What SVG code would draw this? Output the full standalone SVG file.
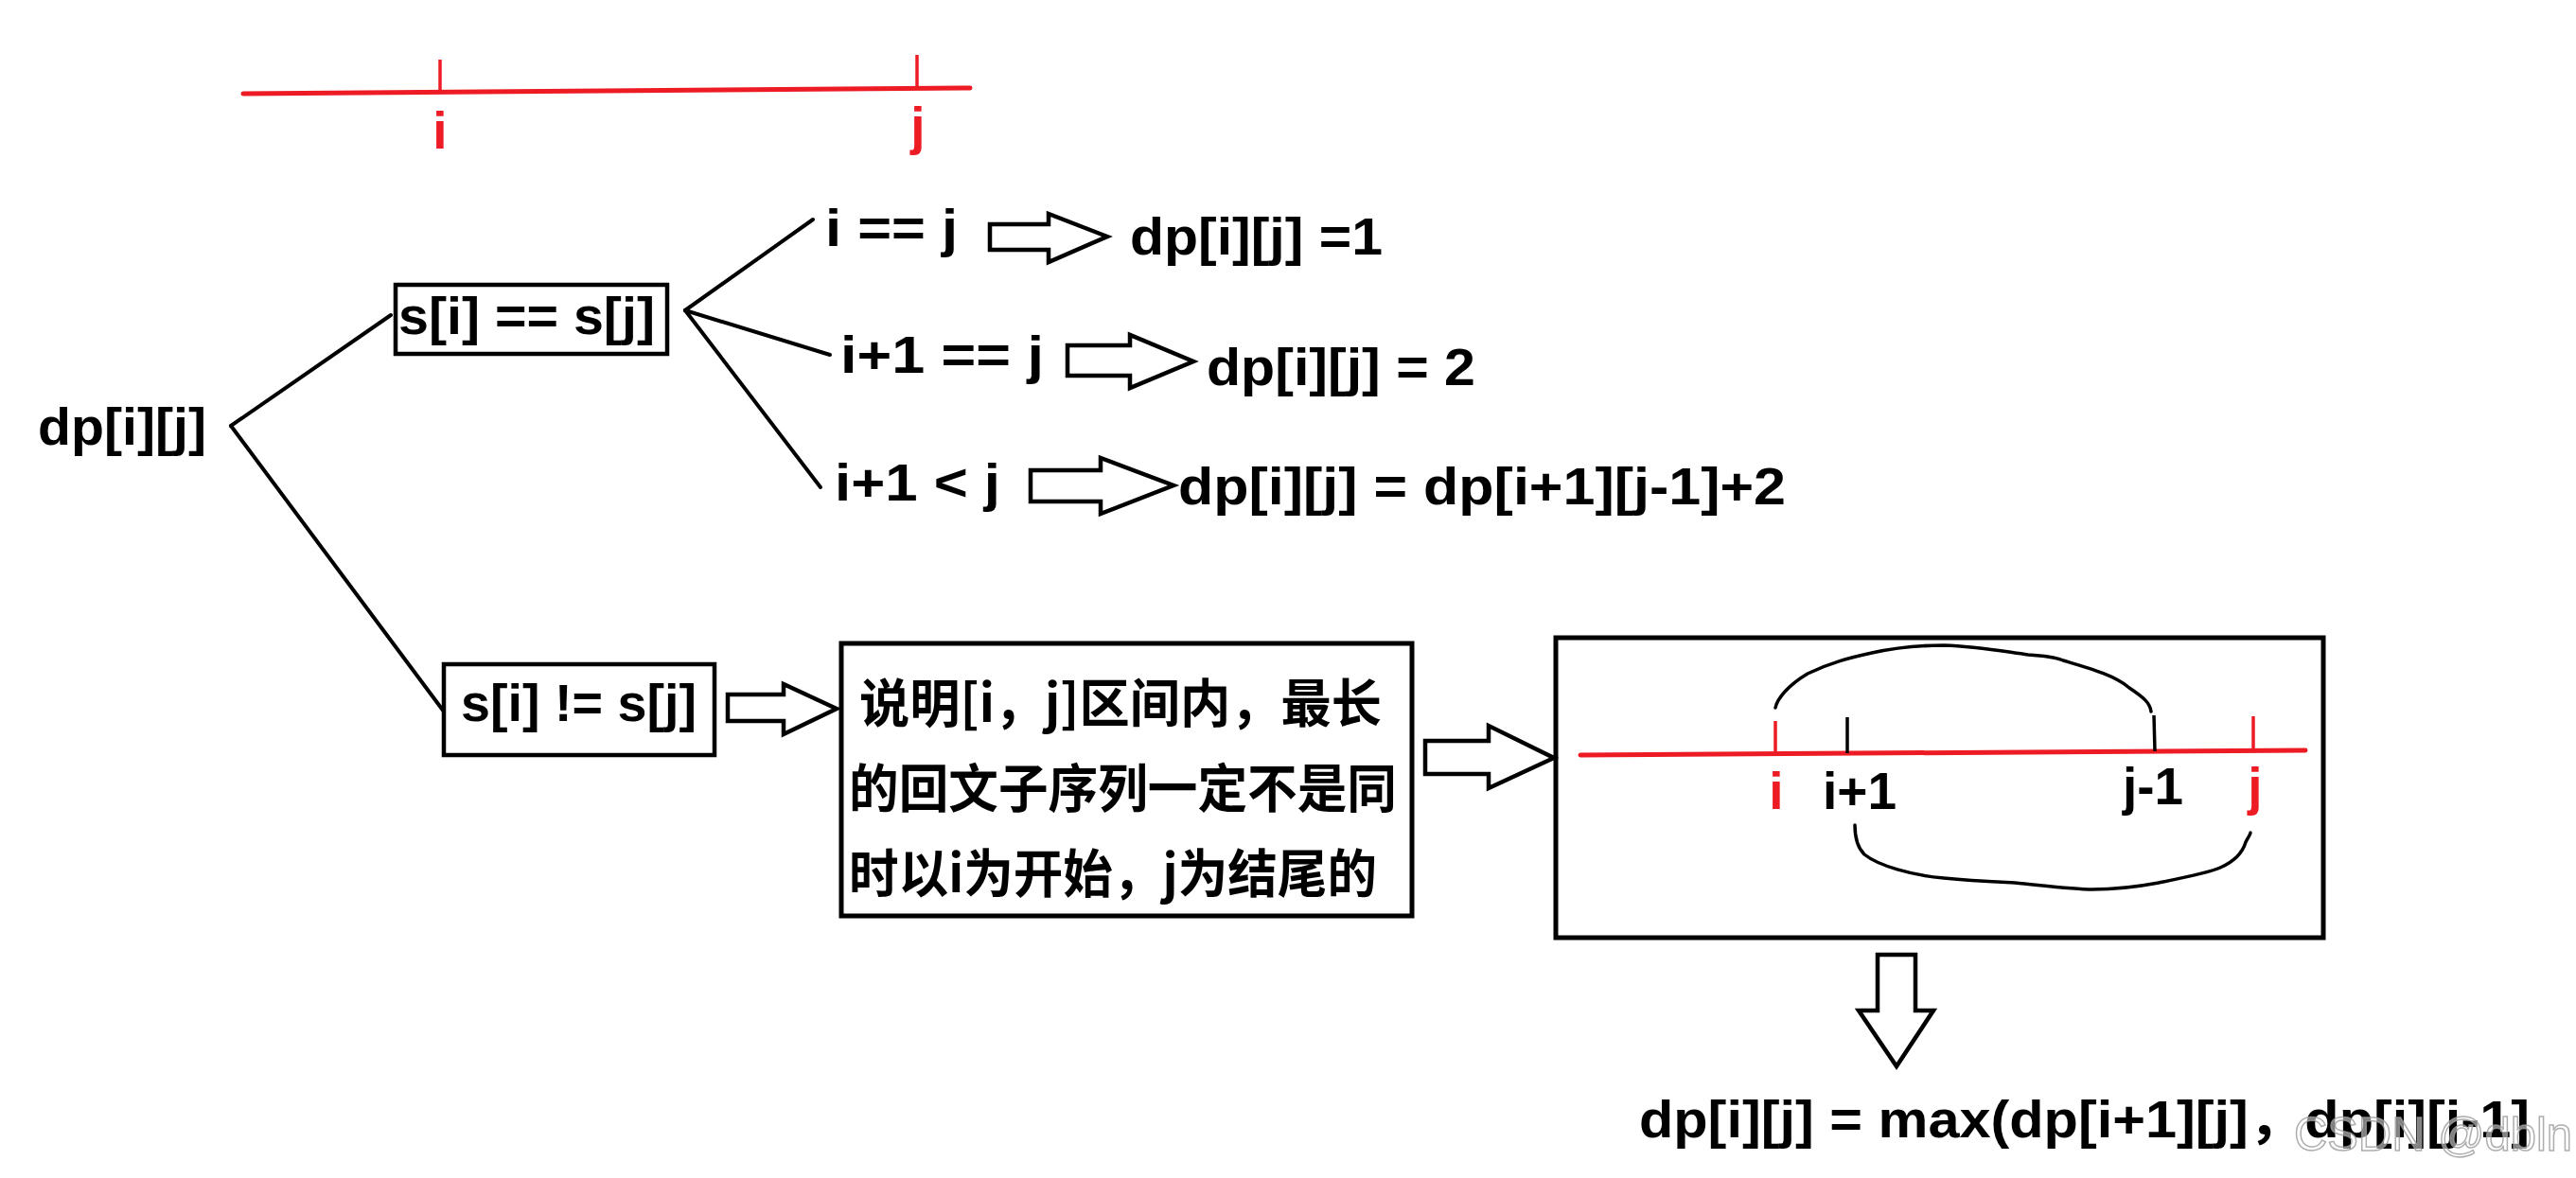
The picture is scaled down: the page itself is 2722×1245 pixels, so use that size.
<svg xmlns="http://www.w3.org/2000/svg" width="2722" height="1245" viewBox="0 0 2722 1245">
<style>
.t{font-family:"Liberation Sans","Noto Sans CJK SC",sans-serif;font-weight:bold;font-size:55px;fill:#000}
.cjk{font-family:"Noto Sans CJK SC","Liberation Sans",sans-serif;font-weight:bold;font-size:55px;fill:#000}
.red{fill:#ED1C24}
.ln{stroke:#000;stroke-width:4;fill:none;stroke-linecap:round}
.rl{stroke:#ED1C24;stroke-width:5;fill:none;stroke-linecap:round}
.rt{stroke:#ED1C24;stroke-width:3.5;fill:none}
.bt{stroke:#000;stroke-width:3.5;fill:none}
.box{stroke:#000;fill:none}
.arr{stroke:#000;stroke-width:4.5;fill:#fff;stroke-linejoin:miter}
.curve{stroke:#000;stroke-width:3.5;fill:none;stroke-linecap:round}
</style>
<rect width="2722" height="1245" fill="#fff"/>

<g id="top-axis">
<polyline class="rl" points="257,99 1025,93"/>
<line class="rt" x1="465" y1="63" x2="465" y2="98"/>
<line class="rt" x1="969" y1="58" x2="969" y2="93"/>
<text class="t red" x="465" y="157" text-anchor="middle">i</text>
<text class="t red" x="970" y="152" text-anchor="middle">j</text>
</g>

<g id="connectors">
<line class="ln" x1="244" y1="450" x2="413" y2="333"/>
<line class="ln" x1="244" y1="450" x2="469" y2="752"/>
<line class="ln" x1="724" y1="328" x2="859" y2="232"/>
<line class="ln" x1="724" y1="328" x2="877" y2="375"/>
<line class="ln" x1="724" y1="328" x2="867" y2="515"/>
<polygon class="arr" points="1046,237 1108,237 1108,226 1170,250 1108,277 1108,264 1046,264"/>
<polygon class="arr" points="1128,365 1194,365 1194,354 1261,382 1194,410 1194,397 1128,397"/>
<polygon class="arr" points="1089,497 1163,497 1163,484 1240,513 1163,543 1163,530 1089,530"/>
<polygon class="arr" points="769,734 828,734 828,723 884,749 828,776 828,762 769,762"/>
<polygon class="arr" points="1506,783 1573,783 1573,767 1642,801 1573,833 1573,818 1506,818"/>
<polygon class="arr" points="1984,1009 2024,1009 2024,1068 2043,1068 2004,1127 1964,1068 1984,1068"/>
</g>

<g id="root">
<text class="t" x="40" y="470" font-size="59" textLength="178" lengthAdjust="spacingAndGlyphs">dp[i][j]</text>
</g>

<g id="cond-eq">
<rect class="box" x="418" y="301" width="287" height="73" stroke-width="4.5"/>
<text class="t" x="421" y="353" textLength="271" lengthAdjust="spacingAndGlyphs">s[i] == s[j]</text>
</g>

<g id="case1">
<text class="t" x="872" y="260" textLength="140" lengthAdjust="spacingAndGlyphs">i == j</text>
</g>
<g id="result1">
<text class="t" x="1194" y="269" textLength="267" lengthAdjust="spacingAndGlyphs">dp[i][j] =1</text>
</g>
<g id="case2">
<text class="t" x="888" y="394" textLength="215" lengthAdjust="spacingAndGlyphs">i+1 == j</text>
</g>
<g id="result2">
<text class="t" x="1275" y="407" textLength="284" lengthAdjust="spacingAndGlyphs">dp[i][j] = 2</text>
</g>
<g id="case3">
<text class="t" x="882" y="529" textLength="175" lengthAdjust="spacingAndGlyphs">i+1 &lt; j</text>
</g>
<g id="result3">
<text class="t" x="1245" y="533" textLength="642" lengthAdjust="spacingAndGlyphs">dp[i][j] = dp[i+1][j-1]+2</text>
</g>

<g id="cond-neq">
<rect class="box" x="469" y="702" width="286" height="96" stroke-width="4.5"/>
<text class="t" x="487" y="762" textLength="249" lengthAdjust="spacingAndGlyphs">s[i] != s[j]</text>
</g>

<g id="explain">
<rect class="box" x="889" y="680" width="603" height="288" stroke-width="5"/>
<text class="cjk" x="908" y="763" textLength="552" lengthAdjust="spacingAndGlyphs">说明[i，j]区间内，最长</text>
<text class="cjk" x="897" y="853" textLength="579" lengthAdjust="spacingAndGlyphs">的回文子序列一定不是同</text>
<text class="cjk" x="897" y="943" textLength="558" lengthAdjust="spacingAndGlyphs">时以i为开始，j为结尾的</text>
</g>

<g id="interval">
<rect class="box" x="1644" y="674" width="811" height="317" stroke-width="5"/>
<polyline class="rl" points="1670,798 2436,793"/>
<line class="rt" x1="1876" y1="762" x2="1876" y2="797"/>
<line class="bt" x1="1952" y1="758" x2="1952" y2="796"/>
<line class="bt" x1="2276" y1="756" x2="2277" y2="794"/>
<line class="rt" x1="2381" y1="757" x2="2381" y2="793"/>
<path class="curve" d="M1876,748 C1878,738 1890,724 1910,712 C1935,700 1955,695 1978,690 C2005,684 2030,682 2054,682 C2090,683 2120,689 2143,692 C2160,693 2170,694 2180,698 C2210,707 2235,714 2250,727 C2265,737 2272,743 2273,752"/>
<path class="curve" d="M1960,872 C1960,885 1962,895 1970,903 C1985,915 2020,925 2054,928 C2085,931 2110,932 2129,933 C2160,936 2190,940 2211,940 C2240,940 2265,936 2281,933 C2310,927 2335,922 2346,917 C2362,910 2370,900 2373,890 C2376,884 2378,882 2378,880"/>
<text class="t red" x="1877" y="855" text-anchor="middle">i</text>
<text class="t" x="1926" y="855" textLength="78" lengthAdjust="spacingAndGlyphs">i+1</text>
<text class="t" x="2243" y="850" textLength="64" lengthAdjust="spacingAndGlyphs">j-1</text>
<text class="t red" x="2383" y="850" text-anchor="middle">j</text>
</g>

<g id="result-neq">
<text class="t" x="1732" y="1202" textLength="941" lengthAdjust="spacingAndGlyphs">dp[i][j] = max(dp[i+1][j]，dp[i][j-1]</text>
</g>

<g id="watermark">
<text x="2424" y="1216" font-family="Liberation Sans Narrow,Liberation Sans,sans-serif" font-size="50" fill="#fff" fill-opacity="0.5" stroke="#999" stroke-width="1.5" stroke-opacity="0.8" textLength="294" lengthAdjust="spacingAndGlyphs">CSDN @dbln</text>
</g>
</svg>
